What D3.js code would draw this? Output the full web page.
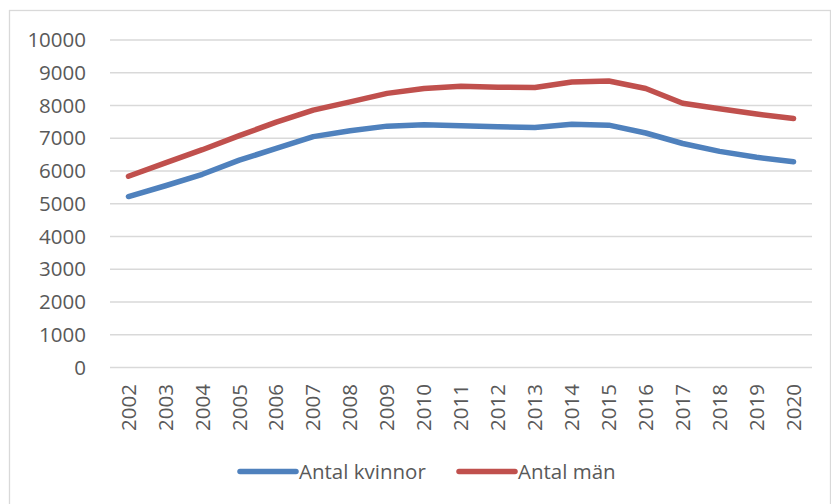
<!DOCTYPE html>
<html>
<head>
<meta charset="utf-8">
<script src="https://cdn.jsdelivr.net/npm/d3@7"></script>
<style>
  html, body { margin: 0; padding: 0; background: #fff; }
  svg { display: block; }
  text { font-family: "Open Sans", "Noto Sans", sans-serif; fill: #595959; }
</style>
</head>
<body>
<svg id="chart" width="831" height="504"></svg>
<script>
const years = ["2002","2003","2004","2005","2006","2007","2008","2009","2010","2011","2012","2013","2014","2015","2016","2017","2018","2019","2020"];
const kvinnor = [5220, 5550, 5900, 6330, 6690, 7050, 7230, 7370, 7410, 7380, 7350, 7330, 7430, 7400, 7160, 6840, 6600, 6420, 6280];
const man = [5840, 6250, 6650, 7080, 7490, 7860, 8110, 8370, 8520, 8590, 8560, 8550, 8720, 8750, 8520, 8070, 7900, 7740, 7600];
const yTicks = [0, 1000, 2000, 3000, 4000, 5000, 6000, 7000, 8000, 9000, 10000];
const seriesNames = ["Antal kvinnor", "Antal män"];
const seriesColors = ["#4f81bd", "#c0504d"];

const svg = d3.select("#chart");

// outer frame
svg.append("rect")
  .attr("x", 9.5).attr("y", 10.5)
  .attr("width", 821).attr("height", 510)
  .attr("fill", "#fff").attr("stroke", "#d9d9d9").attr("stroke-width", 1.3);

const plot = { left: 110, right: 812, top: 40, bottom: 367.5 };

const x = d3.scaleBand().domain(years).range([plot.left, plot.right]);
const y = d3.scaleLinear().domain([0, 10000]).range([plot.bottom, plot.top]);

// gridlines
svg.append("g")
  .selectAll("line")
  .data(yTicks)
  .join("line")
  .attr("x1", plot.left).attr("x2", plot.right)
  .attr("y1", d => y(d)).attr("y2", d => y(d))
  .attr("stroke", "#d9d9d9").attr("stroke-width", 1.3);

// y axis labels
const yAxis = d3.axisLeft(y).tickValues(yTicks).tickSize(0).tickPadding(0).tickFormat(d3.format("d"));
const yg = svg.append("g").attr("transform", `translate(${86},0)`).call(yAxis);
yg.select(".domain").remove();
yg.selectAll("text")
  .attr("font-size", "20.5px")
  .attr("fill", "#595959")
  .style("font-family", '"Open Sans", "Noto Sans", sans-serif');

// x axis labels (rotated)
const xAxis = d3.axisBottom(x).tickSize(0).tickPadding(0);
const xg = svg.append("g").attr("transform", `translate(0,${plot.bottom})`).call(xAxis);
xg.select(".domain").remove();
xg.selectAll("text")
  .attr("font-size", "20.5px")
  .attr("fill", "#595959")
  .style("font-family", '"Open Sans", "Noto Sans", sans-serif')
  .attr("text-anchor", "end")
  .attr("dy", "0.35em")
  .attr("x", 0).attr("y", 0)
  .attr("transform", "translate(0,16.5) rotate(-90)");

// lines
const line = d3.line()
  .x((d, i) => x(years[i]) + x.bandwidth() / 2)
  .y(d => y(d));

[kvinnor, man].forEach((s, i) => {
  svg.append("path")
    .datum(s)
    .attr("fill", "none")
    .attr("stroke", seriesColors[i])
    .attr("stroke-width", 5.5)
    .attr("stroke-linecap", "round")
    .attr("stroke-linejoin", "round")
    .attr("d", line);
});

// legend
const legendItems = [
  { x1: 240, x2: 296, tx: 299 },
  { x1: 459, x2: 515, tx: 518 }
];
const ly = 471.5;
legendItems.forEach((it, i) => {
  svg.append("line")
    .attr("x1", it.x1).attr("x2", it.x2)
    .attr("y1", ly).attr("y2", ly)
    .attr("stroke", seriesColors[i])
    .attr("stroke-width", 5.5)
    .attr("stroke-linecap", "round");
  svg.append("text")
    .attr("x", it.tx).attr("y", ly)
    .attr("dy", "0.35em")
    .attr("font-size", "20.5px")
    .text(seriesNames[i]);
});
</script>
</body>
</html>
